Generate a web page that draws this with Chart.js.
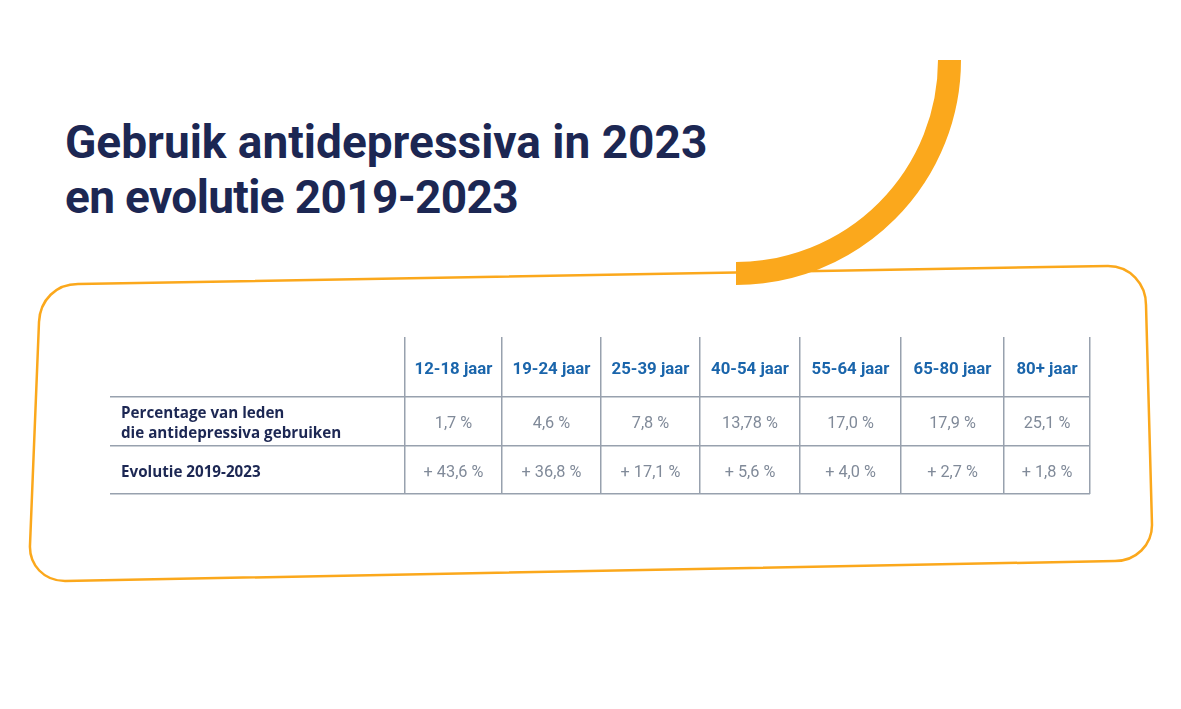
<!DOCTYPE html>
<html lang="nl">
<head>
<meta charset="utf-8">
<title>Gebruik antidepressiva</title>
<script src="https://cdn.jsdelivr.net/npm/chart.js@4"></script>
<style>
    html, body { margin: 0; background: #fff; }
    #page { position: relative; width: 1181px; height: 709px; overflow: hidden; }
    #page svg, #page canvas { position: absolute; left: 0; top: 0; }
    h1 {
        position: absolute; left: 65px; top: 115px; margin: 0;
        font: 700 46px/55px Roboto, sans-serif;
        color: #1c2753;
    }
    h1 span { letter-spacing: -0.65px; }
</style>
</head>
<body>
<div id="page">
    <svg width="1181" height="709" fill="none" stroke="#fba81c">
        <path stroke-width="2.5" d="M78 284 L1108 266 C1130 266 1146 284 1146 305 L1152 525 C1152 545 1136 561 1115 561 L65 581 C44 581 29 565 30 545 L39 322 C40 300 56 284 78 284 Z"/>
        <path stroke-width="23" d="M949.5 60 A213.5 213.5 0 0 1 736 273.5"/>
    </svg>
    <h1>Gebruik antidepressiva in 2023<br><span>en evolutie 2019-2023</span></h1>
    <canvas id="chart" width="1181" height="709"></canvas>
</div>
<script>
const ageGroups = ['12-18 jaar', '19-24 jaar', '25-39 jaar', '40-54 jaar', '55-64 jaar', '65-80 jaar', '80+ jaar']
const memberShare = [1.7, 4.6, 7.8, 13.78, 17.0, 17.9, 25.1]
const evolution = [43.6, 36.8, 17.1, 5.6, 4.0, 2.7, 1.8]
const rowLabels = [['Percentage van leden', 'die antidepressiva gebruiken'], ['Evolutie 2019-2023']]

// table grid, in px from the top left of the table
const columnEdges = [0, 295, 392, 491, 590, 690, 791, 894, 980]
const rowEdges = [0, 60, 109, 157]

const middle = (edges, i) => (edges[i] + edges[i + 1]) / 2
const columnMiddles = ageGroups.map((_, i) => middle(columnEdges, i + 1))

const dutch = v => v.toLocaleString('nl-BE', { minimumFractionDigits: 1, maximumFractionDigits: 2 })

function row(rowIndex, texts, font, color) {
    return {
        data: columnMiddles.map(x => ({ x: x, y: middle(rowEdges, rowIndex) })),
        texts: texts,
        font: font,
        textColor: color,
        pointRadius: 0,
        showLine: false
    }
}

// the cell texts sit on the scatter points of each dataset
const cellText = {
    id: 'cellText',
    afterDatasetsDraw(chart) {
        const ctx = chart.ctx
        ctx.save()
        ctx.textBaseline = 'middle'
        chart.data.datasets.forEach((set, i) => {
            ctx.font = set.font
            ctx.fillStyle = set.textColor
            ctx.textAlign = set.align || 'center'
            chart.getDatasetMeta(i).data.forEach((point, j) => {
                const lines = [].concat(set.texts[j])
                lines.forEach((line, k) => {
                    ctx.fillText(line, point.x, point.y + 2.5 + (k - (lines.length - 1) / 2) * 20)
                })
            })
        })
        ctx.restore()
    }
}

const labelFont = '700 15.2px "Open Sans", sans-serif'
const gridColor = '#98a1ae'

new Chart(document.getElementById('chart'), {
    type: 'scatter',
    data: {
        datasets: [
            row(0, ageGroups, '700 16.8px Roboto, sans-serif', '#1a65ab'),
            row(1, memberShare.map(v => dutch(v) + ' %'), '400 16.3px Roboto, sans-serif', '#808a99'),
            row(2, evolution.map(v => '+ ' + dutch(v) + ' %'), '400 16.3px Roboto, sans-serif', '#808a99'),
            {
                data: rowLabels.map((_, i) => ({ x: 11, y: middle(rowEdges, i + 1) })),
                texts: rowLabels,
                font: labelFont,
                textColor: '#1c2753',
                align: 'left',
                pointRadius: 0,
                showLine: false
            }
        ]
    },
    options: {
        responsive: false,
        animation: false,
        layout: { padding: { left: 110, right: 91, top: 337, bottom: 215 } },
        plugins: { legend: { display: false }, tooltip: { enabled: false } },
        scales: {
            x: {
                type: 'linear',
                min: 0,
                max: 980,
                afterBuildTicks: axis => { axis.ticks = columnEdges.map(v => ({ value: v })) },
                ticks: { display: false, autoSkip: false },
                border: { display: false },
                grid: {
                    drawTicks: false,
                    lineWidth: 1.5,
                    color: c => c.tick && c.tick.value === 0 ? 'transparent' : gridColor
                }
            },
            y: {
                type: 'linear',
                reverse: true,
                min: 0,
                max: 157,
                afterBuildTicks: axis => { axis.ticks = rowEdges.map(v => ({ value: v })) },
                ticks: { display: false, autoSkip: false },
                border: { display: false },
                grid: {
                    drawTicks: false,
                    lineWidth: 1.5,
                    color: c => c.tick && c.tick.value === 0 ? 'transparent' : gridColor
                }
            }
        }
    },
    plugins: [cellText]
})
</script>
</body>
</html>
